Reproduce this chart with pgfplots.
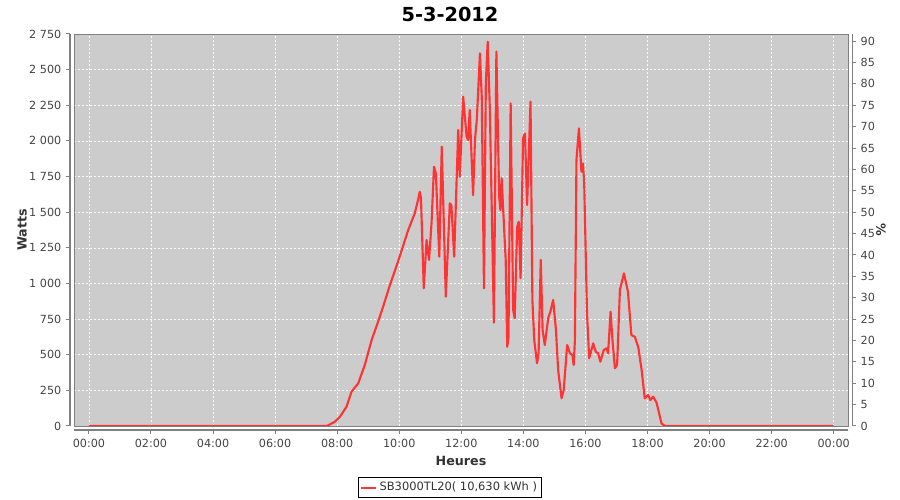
\documentclass[border=0pt]{standalone}
\usepackage{fontspec}
\setmainfont{DejaVu Sans}
\usepackage{pgfplots}
\pgfplotsset{compat=1.18}
\definecolor{bg}{HTML}{CCCCCC}
\definecolor{ln}{HTML}{FF3333}
\definecolor{axgray}{HTML}{808080}
\definecolor{tlab}{HTML}{444444}
\definecolor{lab}{HTML}{333333}
\begin{document}
\begin{tikzpicture}[x=1pt,y=1pt]
\useasboundingbox (0,0) rectangle (675,375);
\pgfplotsset{
 common/.style={width=580.5pt,height=294pt,scale only axis,
   xmin=-0.48, xmax=24.46, ymin=0, ymax=2750,
   /pgf/number format/assume math mode=true,
   tick label style={font=\fontsize{8.4}{10}\selectfont, text=tlab},
   tick style={axgray, line width=0.75pt}, major tick length=3pt, tick align=outside,
   axis line style={axgray, line width=0.75pt},
   label style={font=\bfseries\fontsize{9.5}{11}\selectfont, text=lab},
 }
}
% main plot area
\begin{axis}[common, at={(55.5pt,55.5pt)}, anchor=south west,
  axis background/.style={fill=bg},
  axis line style={axgray, line width=0.5pt},
  xtick={0,2,...,24}, ytick={0,250,...,2750},
  xticklabels={}, yticklabels={}, major tick length=0pt,
  grid=major, grid style={white!92!bg, dash pattern=on 1.5pt off 1.5pt, line width=0.45pt},
  legend style={at={(0.4858,-0.157)}, anchor=center, draw=black, line width=0.75pt,
     font=\fontsize{8.6}{10}\selectfont, text=lab, inner sep=1.2pt,
     /tikz/every even column/.append style={column sep=0pt}},
  legend image code/.code={\draw[#1, line width=1.5pt] (0,0) -- (11pt,0);},
]
\addplot[ln, line width=1.6pt, line join=round] coordinates {
(0,0) (7.67,0) (7.93,30) (8.09,65) (8.30,135) (8.46,240) (8.57,270) (8.68,300)
(8.89,428) (9.11,603) (9.32,732) (9.48,837) (9.70,989) (9.96,1153) (10.29,1375)
(10.50,1492) (10.60,1580) (10.66,1643) (10.70,1600) (10.79,966) (10.88,1305)
(10.96,1165) (11.04,1422) (11.12,1819) (11.18,1772) (11.29,1188) (11.37,1959)
(11.50,907) (11.63,1562) (11.68,1550) (11.77,1188) (11.90,2076) (11.95,1749)
(12.06,2310) (12.17,2030) (12.22,2006) (12.27,2217) (12.38,1620) (12.44,2006)
(12.50,2150) (12.60,2614) (12.66,2300) (12.73,966) (12.79,2404) (12.85,2696)
(12.92,2217) (13.05,725) (13.13,2626) (13.22,1608) (13.26,1515) (13.30,1738)
(13.35,1515) (13.43,1165) (13.48,556) (13.52,620) (13.59,2264) (13.67,814)
(13.72,756) (13.80,1398) (13.85,1433) (13.91,1036) (13.99,2018) (14.05,2053)
(14.12,1550) (14.23,2275) (14.29,884) (14.35,603) (14.44,440) (14.49,510)
(14.56,1165) (14.62,673) (14.69,568) (14.80,756) (14.87,802) (14.96,884)
(15.05,673) (15.12,393) (15.23,194) (15.30,253) (15.41,568) (15.50,510)
(15.58,498) (15.62,428) (15.66,600) (15.71,1866) (15.79,2088) (15.87,1784)
(15.92,1842) (15.96,1700) (16.05,791) (16.12,475) (16.25,580) (16.33,521)
(16.41,510) (16.48,451) (16.59,533) (16.68,545) (16.73,510) (16.81,802)
(16.87,603) (16.95,405) (17.02,428) (17.11,954) (17.24,1071) (17.37,942)
(17.48,638) (17.59,626) (17.70,556) (17.81,393) (17.91,194) (18.02,217)
(18.09,182) (18.18,206) (18.29,165) (18.45,19) (18.56,0) (24,0)
};
\addlegendentry{SB3000TL20( 10,630 kWh )}
\end{axis}
% left axis
\begin{axis}[common, at={(52.5pt,55.5pt)}, anchor=south west,
  axis x line=none, axis y line*=left,
  ytick={0,250,...,2750},
  yticklabels={0,250,500,750,1 000,1 250,1 500,1 750,2 000,2 250,2 500,2 750},
  ylabel={Watts},
  ylabel style={at={(axis description cs:-0.062,0.5)}, anchor=center, rotate=0},
]
\addplot[draw=none] coordinates {(0,0)};
\end{axis}
% bottom axis
\begin{axis}[common, at={(55.5pt,52.5pt)}, anchor=south west,
  axis y line=none, axis x line*=bottom,
  xtick={0,2,...,24},
  xticklabels={00:00,02:00,04:00,06:00,08:00,10:00,12:00,14:00,16:00,18:00,20:00,22:00,00:00},
  xlabel={Heures},
  xlabel style={at={(axis description cs:0.5,-0.079)}, anchor=center},
]
\addplot[draw=none] coordinates {(0,0)};
\end{axis}
% right axis
\begin{axis}[common, at={(58.5pt,55.5pt)}, anchor=south west,
  ymin=0, ymax=91.6667,
  axis x line=none, axis y line*=right,
  ytick={0,5,...,90},
  ylabel={\%},
  ylabel style={at={(axis description cs:1.0375,0.5)}, anchor=center, rotate=180},
]
\addplot[draw=none] coordinates {(0,0)};
\end{axis}
\node[font=\bfseries\fontsize{14.5}{16}\selectfont] at (337.5,364.5) {5-3-2012};
\end{tikzpicture}
\end{document}
